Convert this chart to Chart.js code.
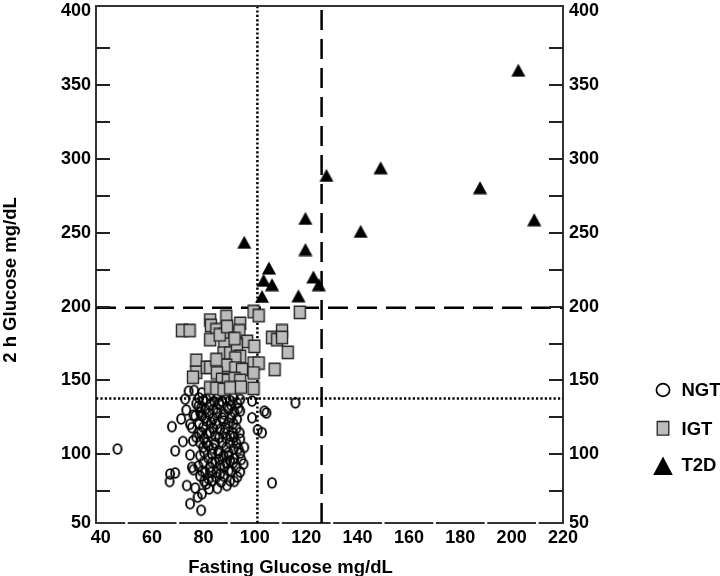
<!DOCTYPE html>
<html>
<head>
<meta charset="utf-8">
<script src="https://cdn.jsdelivr.net/npm/chart.js@4/dist/chart.umd.min.js"></script>
<style>
html,body{margin:0;padding:0;background:#fff;}
#c{display:block;}
</style>
</head>
<body>
<canvas id="c" width="720" height="576"></canvas>
<script>
// ---------------- DATA ----------------
const seriesNames = ['NGT', 'IGT', 'T2D'];

const ngtFasting = [115.8,103.7,98.9,94.3,94.3,67.7,73.3,74.8,75.5,72.0,
  69.0,74.8,75.9,75.5,76.1,67.0,69.0,66.8,73.5,74.8,
  77.7,79.4,79.1,81.1,82.0,83.0,86.5,90.4,89.8,90.4,
  95.6,95.9,94.1,94.3,93.1,98.9,101.1,102.8,106.7,78.1,
  79.4,78.1,78.7,82.0,83.3,84.6,86.5,87.2,87.8,84.6,
  87.8,83.9,87.2,89.8,90.4,91.7,89.8,80.0,78.7,85.9,
  81.3,82.6,80.7,89.1,76.8,83.3,86.5,80.7,46.5,74.2,
  76.4,79.4,82.6,76.1,104.5,71.3,72.9,
  78.3,81.1,85.4,88.9,91.6,
  77.2,82.6,86.1,90.8,93.2,
  78.7,82.2,85.4,88.1,92.0,
  78.3,83.0,85.0,89.7,91.6,
  79.9,83.8,88.5,92.8,
  77.2,80.3,86.1,88.9,92.0,
  79.9,83.8,88.9,93.6,
  81.9,86.1,92.0,94.7,
  78.0,82.6,88.1,92.8,
  78.7,85.0,88.1,93.2,
  76.8,82.2,85.4,
  79.9,84.2,90.4,
  79.1,85.0,89.3,93.6,
  80.7,83.8,87.3,90.8,
  79.1,81.5,88.1,91.6,
  81.1,84.6,90.4,92.8,
  80.3,85.8,89.7,94.3,
  83.4,88.9,91.6,
  79.5,85.0,90.8,94.3,
  80.3,86.9,92.0];
const ngt2h = [134.8,129.2,136.0,137.1,129.2,118.7,129.9,120.3,118.0,108.6,
  102.3,99.6,109.1,91.1,89.5,86.6,87.3,81.5,78.8,66.5,
  70.9,73.2,62.0,79.9,83.3,87.7,86.6,82.1,88.9,95.6,
  93.4,104.6,114.6,110.2,123.7,124.7,116.5,114.6,80.6,132.6,
  125.9,114.6,107.9,105.7,100.1,112.4,116.9,107.9,99.0,94.5,
  122.5,130.4,136.0,130.4,112.4,103.5,99.0,94.5,99.0,102.3,
  122.5,114.6,130.4,78.8,125.9,82.1,92.2,87.7,103.5,142.7,
  143.2,141.6,140.0,126.5,127.9,123.9,137.3,
  138.2,137.4,138.6,137.8,138.4,
  134.3,133.5,134.1,133.2,134.6,
  128.3,127.4,128.0,127.1,128.5,
  120.8,121.6,120.5,121.3,120.9,
  118.2,117.3,117.9,117.5,
  111.5,110.6,111.2,110.8,111.6,
  104.7,103.9,104.5,103.8,
  97.3,96.5,97.0,96.4,
  91.9,91.2,91.7,91.3,
  85.2,84.4,85.0,84.6,
  77.1,76.5,76.9,
  136.2,135.6,136.4,
  131.5,130.9,131.6,131.0,
  124.8,124.2,124.6,124.9,
  114.7,114.1,114.5,114.2,
  107.9,107.4,107.8,107.5,
  101.2,100.7,101.1,100.8,
  94.5,94.0,94.3,
  88.4,87.9,88.3,88.0,
  81.7,81.2,81.6];

const igtFasting = [71.6,74.6,82.6,88.9,82.9,85.0,82.6,88.5,92.0,94.3,
  94.0,97.0,99.8,99.5,101.5,117.5,106.7,108.7,110.6,110.6,
  112.8,107.7,99.5,101.5,99.5,99.5,77.2,77.2,75.9,81.3,
  82.6,88.1,87.8,90.4,93.0,94.3,92.4,88.9,92.4,95.0,
  85.2,87.2,89.5,92.1,94.3,82.6,85.0,87.8,90.4,94.6,
  85.0,86.3,89.2,92.1];
const igt2h = [183.7,183.7,190.9,193.2,187.1,184.2,177.5,180.8,181.5,188.6,
  183.5,176.3,173.0,196.5,193.8,196.0,179.0,177.5,183.5,179.0,
  168.9,157.3,161.7,161.7,155.0,144.5,163.6,155.5,152.1,158.8,
  158.8,174.5,168.5,168.5,174.1,166.2,165.1,160.2,158.4,157.3,
  155.0,150.6,149.9,151.2,149.9,144.9,144.5,143.8,144.9,145.4,
  164.0,180.8,186.4,178.2];

const t2dFasting = [95.9,105.5,103.4,106.7,102.8,119.7,119.7,122.8,124.9,117.0,
  127.9,141.2,149.0,187.7,202.6,208.8];
const t2d2h = [243.6,226.1,217.8,214.9,206.9,259.8,238.7,220.1,214.9,207.3,
  288.9,251.0,294.1,280.6,360.2,258.9];

// Diagnostic threshold lines (as drawn in the picture)
const dottedFasting = 101;   // vertical dotted
const dashedFasting = 126;   // vertical dashed
const dotted2h = 137.8;      // horizontal dotted
const dashed2h = 199.2;      // horizontal dashed

// Axes
const xMin = 38.15, xMax = 220;
const yMin = 53.4, yMax = 403.7;
const xTickLabels = [40, 60, 80, 100, 120, 140, 160, 180, 200, 220];
const xMinorTicks = [50, 70, 90, 110, 130, 150, 170, 190, 210];
const yTickLabels = [50, 100, 150, 200, 250, 300, 350, 400];
const yTickMarks = [75, 100, 125, 150, 175, 200, 225, 250, 275, 300, 325, 350, 375];

const xTitle = 'Fasting Glucose mg/dL';
const yTitle = '2 h Glucose mg/dL';

// ---------------- STYLES ----------------
const FONT_FAMILY = '"Liberation Sans", Arial, Helvetica, sans-serif';
const AXIS_COLOR = '#333';
const IGT_FILL = '#bcbcbc';
const IGT_EDGE = '#262626';

function makeCanvas(w, h, draw) {
  const c = document.createElement('canvas');
  c.width = w; c.height = h;
  draw(c.getContext('2d'), w, h);
  return c;
}
function pathCircle(g, cx, cy, rx, ry) { g.beginPath(); g.ellipse(cx, cy, rx, ry, 0, 0, Math.PI * 2); }
function pathTri(g, cx, top, w, h) { g.beginPath(); g.moveTo(cx, top); g.lineTo(cx + w / 2, top + h); g.lineTo(cx - w / 2, top + h); g.closePath(); }

const ngtMarker = makeCanvas(12, 14, (g) => {
  pathCircle(g, 6, 7, 4.0, 4.85); g.lineWidth = 1.9; g.strokeStyle = '#000'; g.stroke();
});
const igtMarker = makeCanvas(14, 15, (g) => {
  g.beginPath(); g.rect(1.5, 1.3, 11, 12.2);
  g.fillStyle = IGT_FILL; g.fill(); g.lineWidth = 1.4; g.strokeStyle = IGT_EDGE; g.stroke();
});
const t2dMarker = makeCanvas(16, 14, (g) => {
  pathTri(g, 8, 0.6, 14.2, 12.8); g.fillStyle = '#000'; g.fill();
});

function zip(xs, ys) { return xs.map((x, i) => ({ x: x, y: ys[i] })); }

function refLine(points, dash, width) {
  return {
    type: 'scatter', data: points, showLine: true, borderColor: '#000', borderWidth: width,
    borderDash: dash, pointRadius: 0, pointHoverRadius: 0, order: 10, fill: false
  };
}

// ---------------- PLUGIN: frame, inward ticks, titles, legend ----------------
const decor = {
  id: 'decor',
  afterDraw(chart) {
    const ctx = chart.ctx;
    const a = chart.chartArea;
    const ys = chart.scales.y, xs = chart.scales.x;
    ctx.save();
    ctx.setLineDash([]);
    ctx.lineCap = 'butt';
    ctx.globalAlpha = 1;
    // top frame
    ctx.strokeStyle = AXIS_COLOR; ctx.lineWidth = 2;
    ctx.beginPath(); ctx.moveTo(a.left - 1, a.top); ctx.lineTo(a.right + 1, a.top); ctx.stroke();
    // inward tick marks left & right
    ctx.lineWidth = 2;
    ctx.strokeStyle = '#222';
    for (let i = 0; i < yTickMarks.length; i++) {
      const p = Math.round(ys.getPixelForValue(yTickMarks[i]));
      ctx.beginPath();
      ctx.moveTo(a.left, p); ctx.lineTo(a.left + 14, p);
      ctx.moveTo(a.right, p); ctx.lineTo(a.right - 14, p);
      ctx.stroke();
    }
    // small breaks in the bottom axis line
    ctx.fillStyle = '#fff';
    xMinorTicks.forEach(v => {
      const p = xs.getPixelForValue(v);
      ctx.fillRect(p - 1.3, a.bottom - 2, 2.6, 4);
    });
    // axis titles
    ctx.fillStyle = '#000';
    ctx.font = 'bold 18.5px ' + FONT_FAMILY;
    ctx.textAlign = 'center'; ctx.textBaseline = 'alphabetic';
    ctx.fillText(xTitle, 290.5, 572.5);
    ctx.save();
    ctx.translate(16, 280); ctx.rotate(-Math.PI / 2);
    ctx.fillText(yTitle, 0, 0);
    ctx.restore();
    // legend
    const lx = 663, lyc = [390, 428.3, 465.8];
    pathCircle(ctx, lx, lyc[0], 6.6, 6.3); ctx.lineWidth = 1.7; ctx.strokeStyle = '#000'; ctx.stroke();
    ctx.beginPath(); ctx.rect(lx - 5.8, lyc[1] - 6.8, 11.6, 13.6);
    ctx.fillStyle = IGT_FILL; ctx.fill(); ctx.lineWidth = 1.3; ctx.strokeStyle = IGT_EDGE; ctx.stroke();
    pathTri(ctx, lx, lyc[2] - 9.2, 19.6, 18.3); ctx.fillStyle = '#000'; ctx.fill();
    ctx.fillStyle = '#000';
    ctx.font = 'bold 18.5px ' + FONT_FAMILY;
    ctx.textAlign = 'left'; ctx.textBaseline = 'middle';
    ctx.fillText(seriesNames[0], 681.5, lyc[0] + 1);
    ctx.fillText(seriesNames[1], 681.5, lyc[1] + 2);
    ctx.fillText(seriesNames[2], 681.5, lyc[2] + 0.5);
    ctx.restore();
  }
};

const tickFont = { family: FONT_FAMILY, size: 18, weight: 'bold' };

function yAxis(position, width, padding) {
  return {
    type: 'linear', position: position, min: yMin, max: yMax,
    afterBuildTicks: (s) => { s.ticks = yTickLabels.map(v => ({ value: Math.min(Math.max(v, s.min), s.max) })); },
    afterFit: (s) => { s.width = width; s.paddingTop = 0; s.paddingBottom = 0; },
    ticks: { callback: (v, i) => String(yTickLabels[i]), padding: padding, font: tickFont, color: '#000', autoSkip: false },
    grid: { display: false, drawTicks: false },
    border: { display: true, color: AXIS_COLOR, width: 2 }
  };
}

new Chart(document.getElementById('c'), {
  type: 'scatter',
  data: {
    datasets: [
      { label: seriesNames[0], data: zip(ngtFasting, ngt2h), pointStyle: ngtMarker, pointRadius: 5, order: 3, backgroundColor: 'transparent', borderColor: '#000' },
      { label: seriesNames[1], data: zip(igtFasting, igt2h), pointStyle: igtMarker, pointRadius: 5, order: 2, backgroundColor: IGT_FILL, borderColor: IGT_EDGE },
      { label: seriesNames[2], data: zip(t2dFasting, t2d2h), pointStyle: t2dMarker, pointRadius: 5, order: 1, backgroundColor: '#000', borderColor: '#000' },
      refLine([{ x: xMin, y: dashed2h }, { x: xMax, y: dashed2h }], [20, 9], 2.5),
      refLine([{ x: dashedFasting, y: yMin }, { x: dashedFasting, y: yMax }], [20, 9], 2.5),
      refLine([{ x: xMin, y: dotted2h }, { x: xMax, y: dotted2h }], [2.2, 2.2], 2.5),
      refLine([{ x: dottedFasting, y: yMin }, { x: dottedFasting, y: yMax }], [2.2, 2.2], 2.5)
    ]
  },
  options: {
    responsive: false,
    devicePixelRatio: 1,
    animation: false,
    layout: { padding: { top: 2, left: 0, right: 0, bottom: 0 } },
    plugins: { legend: { display: false }, tooltip: { enabled: false } },
    scales: {
      x: {
        type: 'linear', position: 'bottom', min: xMin, max: xMax,
        afterBuildTicks: (s) => { s.ticks = xTickLabels.map(v => ({ value: v })); },
        afterFit: (s) => { s.height = 53; s.paddingLeft = 0; s.paddingRight = 0; },
        ticks: { padding: 4, font: tickFont, color: '#000', autoSkip: false, maxRotation: 0 },
        grid: { display: false, drawTicks: false },
        border: { display: true, color: AXIS_COLOR, width: 2 }
      },
      y: yAxis('left', 96, 5),
      y2: yAxis('right', 157, 6)
    }
  },
  plugins: [decor]
});
</script>
</body>
</html>
